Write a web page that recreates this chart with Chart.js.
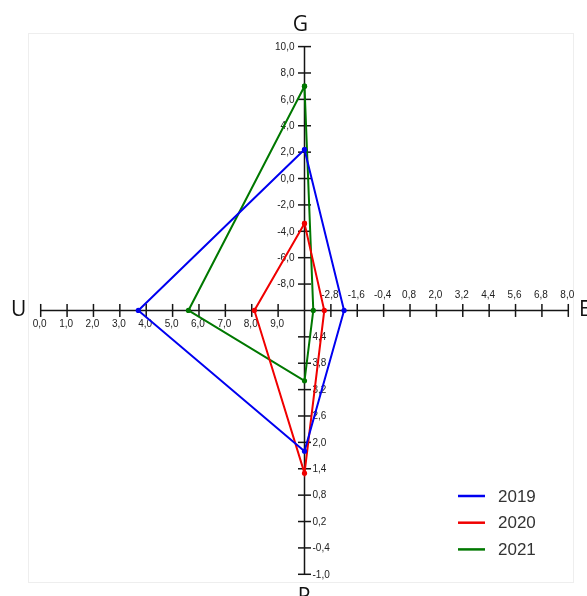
<!DOCTYPE html>
<html>
<head>
<meta charset="utf-8">
<title>G / E / P / U</title>
<script src="https://cdn.jsdelivr.net/npm/chart.js@4/dist/chart.umd.min.js"></script>
<style>
  html, body { margin: 0; padding: 0; background: #ffffff; }
  #wrap { width: 587px; height: 596px; }
</style>
</head>
<body>
<div id="wrap"><canvas id="chart" width="587" height="596"></canvas></div>
<script>
// Series, one value per axis
const years = ['2019', '2020', '2021'];
const gValues = [2.2, -3.4, 7.0];
const eValues = [-2.2, -3.1, -3.6];
const pValues = [1.8, 1.3, 3.4];
const uValues = [3.7, 8.1, 5.6];
const colors = ['#0000f0', '#f00000', '#007800'];

// Tick labels on each arm
const gTicks = [10.0, 8.0, 6.0, 4.0, 2.0, 0.0, -2.0, -4.0, -6.0, -8.0];
const uTicks = [0.0, 1.0, 2.0, 3.0, 4.0, 5.0, 6.0, 7.0, 8.0, 9.0];
const eTicks = [-2.8, -1.6, -0.4, 0.8, 2.0, 3.2, 4.4, 5.6, 6.8, 8.0];
const pTicks = [4.4, 3.8, 3.2, 2.6, 2.0, 1.4, 0.8, 0.2, -0.4, -1.0];

// Each arm: value at the centre, value at the outer end, direction
const arms = {
  G: { from: -10, to: 10, dir: 'up',    ticks: gTicks },
  E: { from: -4,  to: 8,  dir: 'right', ticks: eTicks },
  P: { from: 5,   to: -1, dir: 'down',  ticks: pTicks },
  U: { from: 10,  to: 0,  dir: 'left',  ticks: uTicks }
};

// Position of an arm value on the shared -10..10 plane
function armPoint(name, v) {
  const a = arms[name];
  const t = (v - a.from) / (a.to - a.from) * 10;
  switch (a.dir) {
    case 'up':    return { x: 0, y: t };
    case 'down':  return { x: 0, y: -t };
    case 'left':  return { x: -t, y: 0 };
    default:      return { x: t, y: 0 };
  }
}

function fmt(v) { return v.toFixed(1).replace('.', ','); }

const datasets = years.map((yr, i) => ({
  label: yr,
  data: [
    armPoint('G', gValues[i]),
    armPoint('E', eValues[i]),
    armPoint('P', pValues[i]),
    armPoint('U', uValues[i]),
    armPoint('G', gValues[i])
  ],
  showLine: true,
  fill: false,
  tension: 0,
  borderColor: colors[i],
  backgroundColor: colors[i],
  borderWidth: 2,
  pointRadius: 2.6,
  pointHoverRadius: 2.6,
  pointBorderWidth: 0
}));

// Draws the four arms with their ticks, labels and names
const quadAxes = {
  id: 'quadAxes',
  beforeDatasetsDraw(chart) {
    const ctx = chart.ctx;
    const xs = chart.scales.x, ys = chart.scales.y;
    const px = p => ({ x: xs.getPixelForValue(p.x), y: ys.getPixelForValue(p.y) });
    ctx.save();

    // faint frame
    ctx.strokeStyle = '#eeeeee';
    ctx.lineWidth = 1;
    ctx.strokeRect(28.5, 33.5, 545, 549);

    ctx.strokeStyle = '#151515';
    ctx.lineWidth = 1.5;
    const c = px({ x: 0, y: 0 });
    Object.keys(arms).forEach(name => {
      const a = arms[name];
      const end = px(armPoint(name, a.to));
      ctx.beginPath();
      ctx.moveTo(c.x, c.y);
      ctx.lineTo(end.x, end.y);
      ctx.stroke();
      const horiz = a.dir === 'left' || a.dir === 'right';
      const tickVals = a.ticks.concat(name === 'U' || name === 'P' || name === 'E' || name === 'G' ? [] : []);
      tickVals.forEach(v => {
        const p = px(armPoint(name, v));
        ctx.beginPath();
        if (horiz) { ctx.moveTo(p.x, p.y - 6.5); ctx.lineTo(p.x, p.y + 6.5); }
        else { ctx.moveTo(p.x - 6.5, p.y); ctx.lineTo(p.x + 6.5, p.y); }
        ctx.stroke();
      });
      ctx.fillStyle = '#222222';
      ctx.font = "10px 'Liberation Sans', Arial, sans-serif";
      tickVals.forEach(v => {
        const p = px(armPoint(name, v));
        const s = fmt(v);
        if (a.dir === 'up') {
          ctx.textAlign = 'right'; ctx.textBaseline = 'middle';
          ctx.fillText(s, p.x - 10, p.y + 0.5);
        } else if (a.dir === 'down') {
          ctx.textAlign = 'left'; ctx.textBaseline = 'middle';
          ctx.fillText(s, p.x + 8, p.y + 0.5);
        } else if (a.dir === 'left') {
          ctx.textAlign = 'center'; ctx.textBaseline = 'middle';
          ctx.fillText(s, p.x - 1, p.y + 13.5);
        } else {
          ctx.textAlign = 'center'; ctx.textBaseline = 'middle';
          ctx.fillText(s, p.x - 1, p.y - 15.5);
        }
      });
    });

    // arm names
    ctx.fillStyle = '#111111';
    ctx.font = "21px 'Open Sans', 'Noto Sans', sans-serif";
    ctx.textBaseline = 'alphabetic';
    const gEnd = px(armPoint('G', arms.G.to));
    const uEnd = px(armPoint('U', arms.U.to));
    const eEnd = px(armPoint('E', arms.E.to));
    const pEnd = px(armPoint('P', arms.P.to));
    ctx.textAlign = 'center';
    ctx.fillText('G', gEnd.x - 4, 31);
    ctx.textAlign = 'left';
    ctx.fillText('U', 11, uEnd.y + 5.5);
    ctx.fillText('E', 579, eEnd.y + 5.5);
    ctx.textAlign = 'center';
    ctx.fillText('P', pEnd.x - 0.5, 603);
    ctx.restore();
  },
  afterDraw(chart) {
    // legend, bottom right
    const ctx = chart.ctx;
    ctx.save();
    ctx.font = "17px 'Liberation Sans', Arial, sans-serif";
    ctx.textAlign = 'left';
    ctx.textBaseline = 'middle';
    chart.data.datasets.forEach((ds, i) => {
      const y = 496 + i * 26.7;
      ctx.strokeStyle = ds.borderColor;
      ctx.lineWidth = 2.5;
      ctx.beginPath();
      ctx.moveTo(458, y);
      ctx.lineTo(485, y);
      ctx.stroke();
      ctx.fillStyle = '#333333';
      ctx.fillText(ds.label, 498, y + 1);
    });
    ctx.restore();
  }
};

new Chart(document.getElementById('chart'), {
  type: 'scatter',
  data: { datasets },
  options: {
    responsive: false,
    animation: false,
    devicePixelRatio: 1,
    layout: { padding: { left: 40.7, right: 18.7, top: 46.6, bottom: 21.7 } },
    scales: {
      x: { type: 'linear', min: -10, max: 10, display: false },
      y: { type: 'linear', min: -10, max: 10, display: false }
    },
    plugins: {
      legend: { display: false },
      tooltip: { enabled: false }
    }
  },
  plugins: [quadAxes]
});
</script>
</body>
</html>
